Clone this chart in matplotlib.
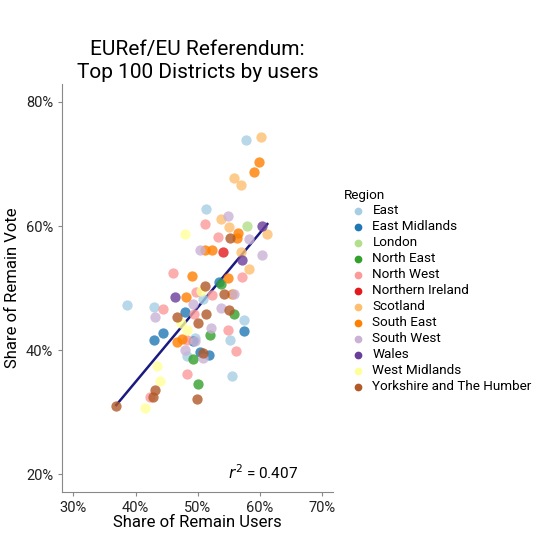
import numpy as np
import matplotlib
matplotlib.use('Agg')
import matplotlib.pyplot as plt
from matplotlib.ticker import PercentFormatter

plt.rcParams['font.family'] = ['Roboto', 'DejaVu Sans']

regions = ['East', 'East Midlands', 'London', 'North East', 'North West',
           'Northern Ireland', 'Scotland', 'South East', 'South West', 'Wales',
           'West Midlands', 'Yorkshire and The Humber']

# share of remain users (%), share of remain vote (%) per region
east_x = [57.7, 51.4, 50.8, 38.6, 43.0, 57.5, 49.5, 55.2, 48.3, 55.5]
east_y = [73.9, 62.8, 48.2, 47.2, 47.0, 44.8, 41.9, 41.7, 39.1, 35.8]
emid_x = [53.5, 47.9, 57.5, 44.4, 43.0, 49.2, 50.4, 51.9]
emid_y = [51.0, 46.2, 43.1, 42.8, 41.6, 41.5, 39.7, 39.2]
london_x = [57.9]
london_y = [60.0]
neast_x = [53.7, 55.8, 52.0, 49.2, 50.1]
neast_y = [50.7, 45.9, 42.4, 38.6, 34.5]
nwest_x = [51.2, 53.2, 46.1, 57.2, 49.7, 52.3, 44.4, 49.4, 54.8, 48.3, 56.1, 48.3, 42.3]
nwest_y = [60.3, 58.2, 52.4, 51.8, 49.3, 48.9, 46.6, 45.8, 43.2, 41.6, 39.9, 36.1, 32.5]
ni_x = [54.0]
ni_y = [55.8]
scot_x = [60.2, 55.9, 56.9, 53.8, 55.0, 61.2, 56.9, 58.2]
scot_y = [74.4, 67.7, 66.6, 61.1, 59.8, 58.7, 55.9, 53.1]
seast_x = [59.9, 59.0, 56.5, 56.3, 51.1, 52.3, 49.1, 54.9, 55.5, 48.2, 46.7, 47.5]
seast_y = [70.3, 68.7, 58.9, 58.1, 56.2, 56.2, 51.9, 51.6, 49.0, 48.6, 41.3, 41.8]
swest_x = [54.8, 58.2, 50.3, 60.4, 55.8, 49.3, 53.7, 43.2, 52.1, 47.9, 50.8, 49.6]
swest_y = [61.7, 57.9, 56.2, 55.3, 49.0, 47.4, 46.8, 45.3, 43.5, 40.1, 38.8, 41.4]
wales_x = [60.4, 57.2, 46.3]
wales_y = [60.0, 54.6, 48.5]
wmid_x = [48.0, 50.5, 47.3, 48.3, 43.5, 44.0, 41.5]
wmid_y = [58.8, 49.5, 44.4, 43.2, 37.4, 35.1, 30.6]
york_x = [55.2, 51.2, 54.3, 55.0, 51.4, 46.6, 50.1, 50.8, 43.1, 42.8, 49.9, 36.9]
york_y = [58.1, 50.3, 49.0, 46.4, 45.8, 45.3, 44.3, 39.5, 33.6, 32.4, 32.1, 31.0]

xs = [east_x, emid_x, london_x, neast_x, nwest_x, ni_x, scot_x, seast_x,
      swest_x, wales_x, wmid_x, york_x]
ys = [east_y, emid_y, london_y, neast_y, nwest_y, ni_y, scot_y, seast_y,
      swest_y, wales_y, wmid_y, york_y]
r2_text = '0.407'

colors = plt.get_cmap('Paired').colors

fig = plt.figure(figsize=(5.6, 5.6), dpi=100)
ax = fig.add_axes([0.111, 0.121, 0.484, 0.729])

for i in range(len(regions)):
    x = np.array(xs[i]) / 100
    y = np.array(ys[i]) / 100
    ax.scatter(x, y, s=55, color=colors[i], alpha=0.8, linewidths=0,
               label=regions[i], zorder=3)

# regression line
allx = np.concatenate(xs) / 100
ally = np.concatenate(ys) / 100
m, b = np.polyfit(allx, ally, 1)
lx = np.array([allx.min(), allx.max()])
ax.plot(lx, m * lx + b, color='#1a1a80', lw=1.8, zorder=2)

ax.text(0.74, 0.025, r'$r^2$ = ' + r2_text, transform=ax.transAxes,
        ha='center', va='bottom', fontsize=11)

ax.set_xlim(0.282, 0.718)
ax.set_ylim(0.171, 0.829)
ax.set_xticks([0.3, 0.4, 0.5, 0.6, 0.7])
ax.set_yticks([0.2, 0.4, 0.6, 0.8])
ax.xaxis.set_major_formatter(PercentFormatter(1.0, decimals=0))
ax.yaxis.set_major_formatter(PercentFormatter(1.0, decimals=0))
ax.tick_params(labelsize=10.5, length=3, color='#888888', labelcolor='#222222')
for s in ['top', 'right']:
    ax.spines[s].set_visible(False)
for s in ['left', 'bottom']:
    ax.spines[s].set_color('#888888')

ax.set_xlabel('Share of Remain Users', fontsize=12, labelpad=0)
ax.set_ylabel('Share of Remain Vote', fontsize=12, labelpad=4)
ax.set_title('EURef/EU Referendum:\nTop 100 Districts by users', fontsize=15,
             pad=4, linespacing=1.3)

leg = fig.legend(loc='upper left', bbox_to_anchor=(0.605, 0.673), frameon=False,
                 title='Region', fontsize=9.7, title_fontsize=9.7,
                 handletextpad=0.1, labelspacing=0.22, borderaxespad=0,
                 markerscale=0.75, alignment='left')
for h in leg.legend_handles:
    h.set_alpha(1)

fig.savefig('out.png', dpi=100, facecolor='white')
